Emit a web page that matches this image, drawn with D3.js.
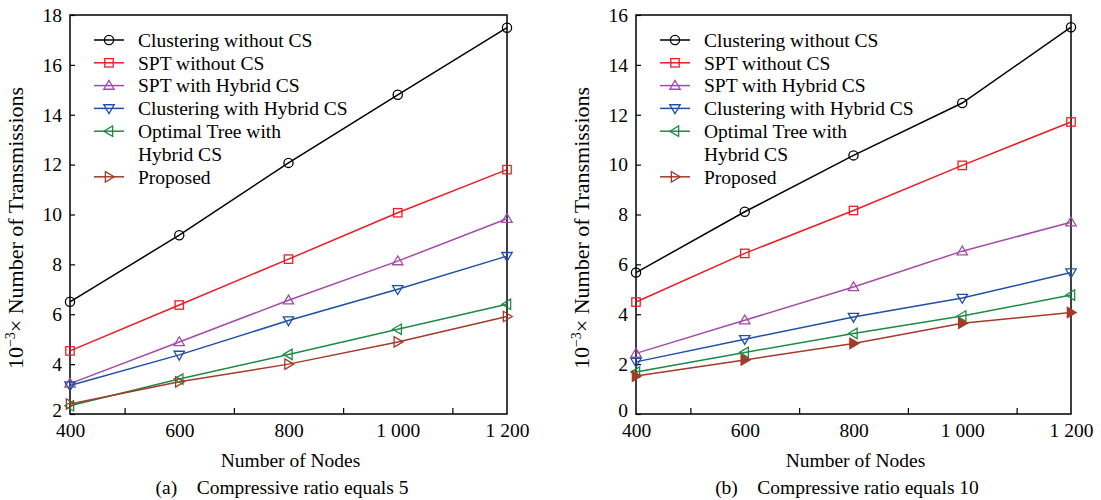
<!DOCTYPE html>
<html>
<head>
<meta charset="utf-8">
<script src="https://cdn.jsdelivr.net/npm/d3@7"></script>
<style>
body { margin: 0; background: #fff; }
text { font-family: "Liberation Serif", "Times New Roman", serif; font-size: 19.5px; fill: #000; }
.domain { display: none; }
</style>
</head>
<body>
<script>
const nodes = [400, 600, 800, 1000, 1200];
const minorTicks = [500, 700, 900, 1100];
const names = ["Clustering without CS", "SPT without CS", "SPT with Hybrid CS",
               "Clustering with Hybrid CS", "Optimal Tree with|Hybrid CS", "Proposed"];
const colors = ["#000000", "#ec1c24", "#a24ca8", "#1f4fa8", "#1d8a45", "#a33a2a"];
const shapes = ["circle", "square", "up", "down", "left", "right"];

// (a) compressive ratio 5
const a_clusterNoCS = [6.5, 9.17, 12.07, 14.8, 17.49];
const a_sptNoCS     = [4.53, 6.37, 8.21, 10.07, 11.8];
const a_sptHybrid   = [3.22, 4.89, 6.56, 8.13, 9.83];
const a_clusHybrid  = [3.14, 4.37, 5.75, 7.0, 8.33];
const a_optimal     = [2.33, 3.4, 4.39, 5.4, 6.4];
const a_proposed    = [2.4, 3.29, 4.0, 4.89, 5.91];

// (b) compressive ratio 10
const b_clusterNoCS = [5.67, 8.11, 10.37, 12.47, 15.51];
const b_sptNoCS     = [4.49, 6.44, 8.16, 9.97, 11.71];
const b_sptHybrid   = [2.43, 3.76, 5.09, 6.53, 7.69];
const b_clusHybrid  = [2.09, 3.0, 3.89, 4.65, 5.67];
const b_optimal     = [1.68, 2.47, 3.23, 3.93, 4.77];
const b_proposed    = [1.52, 2.17, 2.83, 3.64, 4.07];

const a_yTicks = [2, 4, 6, 8, 10, 12, 14, 16, 18];
const b_yTicks = [0, 2, 4, 6, 8, 10, 12, 14, 16];

const panels = [
  { left: 70, right: 507, ticks: a_yTicks, caption: "(a)\u2003Compressive ratio equals 5", filledLast: false,
    series: [a_clusterNoCS, a_sptNoCS, a_sptHybrid, a_clusHybrid, a_optimal, a_proposed] },
  { left: 636, right: 1071, ticks: b_yTicks, caption: "(b)\u2003Compressive ratio equals 10", filledLast: true,
    series: [b_clusterNoCS, b_sptNoCS, b_sptHybrid, b_clusHybrid, b_optimal, b_proposed] }
];

const plotTop = 15, plotBottom = 414;

const svg = d3.select("body").append("svg")
  .attr("width", 1101).attr("height", 500);

function marker(g, shape, cx, cy, color, filled) {
  if (shape === "circle") {
    g.append("circle").attr("cx", cx).attr("cy", cy).attr("r", 4.6)
      .attr("fill", "none").attr("stroke", color).attr("stroke-width", 1.3);
    return;
  }
  if (shape === "square") {
    g.append("rect").attr("x", cx - 4.2).attr("y", cy - 4.2).attr("width", 8.4).attr("height", 8.4)
      .attr("fill", "none").attr("stroke", color).attr("stroke-width", 1.3);
    return;
  }
  const s = 5.2;
  let pts;
  if (shape === "up") pts = [[0, -s], [s, s * 0.7], [-s, s * 0.7]];
  if (shape === "down") pts = [[0, s], [s, -s * 0.7], [-s, -s * 0.7]];
  if (shape === "left") pts = [[-s, 0], [s * 0.7, -s], [s * 0.7, s]];
  if (shape === "right") pts = [[s, 0], [-s * 0.7, -s], [-s * 0.7, s]];
  g.append("path")
    .attr("d", "M" + pts.map(p => (cx + p[0]) + "," + (cy + p[1])).join("L") + "Z")
    .attr("fill", filled ? color : "none").attr("stroke", color).attr("stroke-width", 1.3);
}

panels.forEach(p => {
  const x = d3.scaleLinear().domain([400, 1200]).range([p.left, p.right]);
  const y = d3.scaleLinear().domain([p.ticks[0], p.ticks[p.ticks.length - 1]]).range([plotBottom, plotTop]);
  const g = svg.append("g");

  // y axis, ticks inward
  g.append("g").attr("transform", `translate(${p.left},0)`)
    .call(d3.axisLeft(y).tickValues(p.ticks).tickSize(-5).tickPadding(8))
    .call(a => a.selectAll("text").style("font-size", "19.5px").attr("font-family", null))
    .call(a => a.selectAll("line").attr("stroke-width", 1.2))
    .call(a => a.select(".tick text").attr("dy", "0.12em"));

  // x axis labels
  g.append("g").attr("transform", `translate(0,${plotBottom})`)
    .call(d3.axisBottom(x).tickValues(nodes).tickSize(0).tickPadding(9)
      .tickFormat(d => d3.format(",")(d).replace(",", " ")))
    .call(a => a.selectAll("text").style("font-size", "19.5px").attr("font-family", null));

  // minor ticks inward
  g.append("g").attr("transform", `translate(0,${plotBottom})`)
    .call(d3.axisBottom(x).tickValues(minorTicks).tickSize(-6).tickFormat(""))
    .call(a => a.selectAll("line").attr("stroke-width", 1.2));

  // frame
  g.append("rect").attr("x", p.left).attr("y", plotTop)
    .attr("width", p.right - p.left).attr("height", plotBottom - plotTop)
    .attr("fill", "none").attr("stroke", "#000").attr("stroke-width", 1.5);

  // lines + markers
  const line = d3.line().x((d, i) => x(nodes[i])).y(d => y(d));
  p.series.forEach((vals, si) => {
    g.append("path").datum(vals).attr("d", line)
      .attr("fill", "none").attr("stroke", colors[si]).attr("stroke-width", 1.5);
  });
  p.series.forEach((vals, si) => {
    vals.forEach((v, i) => marker(g, shapes[si], x(nodes[i]), y(v), colors[si],
      p.filledLast && si === 5));
  });

  // legend
  const lg = g.append("g").attr("transform", `translate(${p.left},0)`);
  let row = 0;
  names.forEach((nm, si) => {
    const parts = nm.split("|");
    const ly = 40 + row * 22.8;
    lg.append("line").attr("x1", 24).attr("x2", 54).attr("y1", ly).attr("y2", ly)
      .attr("stroke", colors[si]).attr("stroke-width", 1.5);
    marker(lg, shapes[si], 39, ly, colors[si], false);
    parts.forEach((t, k) => {
      lg.append("text").attr("x", 68).attr("y", ly + k * 22.8).attr("dy", "0.35em").text(t);
    });
    row += parts.length;
  });

  // axis titles
  const cx = (p.left + p.right) / 2;
  g.append("text").attr("x", cx + 2).attr("y", 467).attr("text-anchor", "middle").text("Number of Nodes");
  g.append("text").attr("x", cx - 6.5).attr("y", 494).attr("text-anchor", "middle").text(p.caption);

  const yl = g.append("text").attr("text-anchor", "middle").style("font-size", "22px")
    .attr("transform", `translate(${p.left - 47},228) rotate(-90)`);
  yl.append("tspan").text("10");
  yl.append("tspan").attr("dy", -8.5).style("font-size", "14px").text("\u22123");
  yl.append("tspan").attr("dy", 8.5).text("\u00d7 Number of Transmissions");
});
</script>
</body>
</html>
